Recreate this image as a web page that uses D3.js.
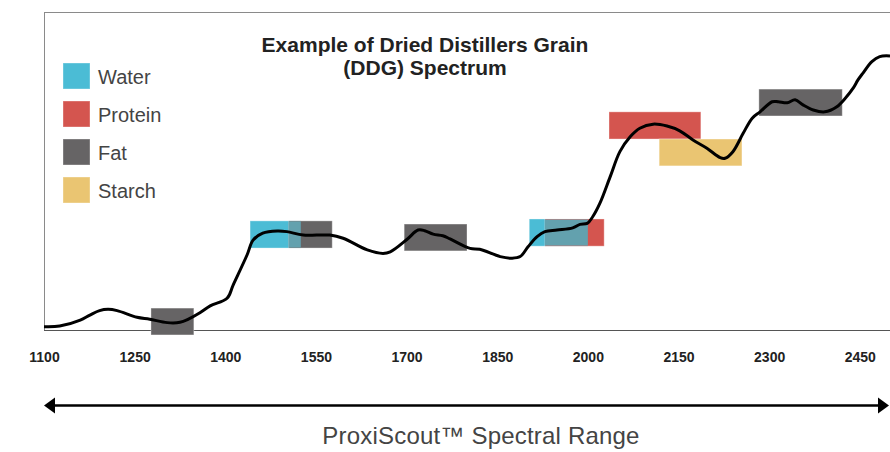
<!DOCTYPE html>
<html lang="en">
<head>
	<meta charset="UTF-8">
	<title>DDG Spectrum</title>
	<script src="https://cdn.jsdelivr.net/npm/d3@7"></script>
	<style>
		body { margin: 0; background: #fff; }
		svg { display: block; }
	</style>
</head>
<body>
	<div id="container"></div>

	<script>

		// spectrum trace (wavelength in nm, relative absorbance)
		var wavelengths = [1100, 1126, 1160, 1176, 1192, 1206, 1221, 1254, 1275, 1304, 1325, 1339, 1358, 1375, 1403,
			1413, 1436, 1446, 1462, 1486, 1502, 1529, 1573, 1595, 1635, 1661, 1673, 1701, 1719, 1730, 1744, 1760,
			1772, 1805, 1821, 1855, 1874, 1888, 1901, 1916, 1929, 1949, 1975, 1987, 1999, 2008, 2020, 2037, 2053,
			2070, 2086, 2108, 2131, 2152, 2174, 2197, 2219, 2227, 2240, 2257, 2272, 2285, 2305, 2315, 2330, 2343,
			2356, 2373, 2392, 2412, 2426, 2439, 2447, 2455, 2470, 2483, 2500];
		var absorbance = [0.4, 0.6, 2.5, 4.1, 5.5, 5.9, 5.5, 3.4, 2.8, 1.7, 1.8, 2.8, 4.8, 7.0, 9.4,
			13.6, 23.1, 27.8, 30.0, 30.7, 30.5, 29.4, 29.4, 28.4, 24.7, 23.6, 24.1, 28.1, 31.0, 30.8, 29.7, 29.2,
			28.2, 25.2, 24.9, 22.6, 22.1, 22.6, 25.7, 28.9, 30.5, 31.0, 31.7, 32.8, 33.1, 35.2, 39.5, 47.9, 55.8,
			60.5, 63.2, 64.5, 63.9, 62.4, 59.5, 56.9, 53.9, 53.7, 55.8, 61.6, 66.4, 68.4, 71.6, 71.6, 71.3, 72.2,
			70.6, 69.0, 68.4, 70.0, 72.7, 75.9, 78.5, 80.6, 84.3, 85.9, 86.1];

		// absorption bands: component, wavelength from/to, absorbance low/high
		var bandComponents = ["Fat", "Water", "Fat", "Fat", "Water", "Protein", "Protein", "Starch", "Fat"];
		var bandStart = [1277, 1441, 1505, 1696, 1903, 1929, 2035, 2118, 2283];
		var bandEnd = [1348, 1525, 1577, 1800, 2000, 2027, 2187, 2255, 2421];
		var bandLow = [-2.2, 25.3, 25.3, 24.4, 25.9, 25.9, 59.8, 51.3, 67.1];
		var bandHigh = [6.3, 33.9, 33.9, 32.9, 34.5, 34.5, 68.4, 59.8, 75.6];

		var components = ["Water", "Protein", "Fat", "Starch"];
		var componentColors = ["#4bbcd5", "#d4554f", "#666465", "#eac572"];
		var overlapColor = "#63a1ae";

		var tickValues = [1100, 1250, 1400, 1550, 1700, 1850, 2000, 2150, 2300, 2450];

		var titleLines = ["Example of Dried Distillers Grain", "(DDG) Spectrum"];
		var rangeLabel = "ProxiScout\u2122 Spectral Range";


		var width = 890;
		var height = 452;
		var plot = { left: 44, right: 890, top: 12, bottom: 330 };

		var svg = d3.select("#container").append("svg")
			.attr("width", width)
			.attr("height", height);

		var xscale = d3.scaleLinear()
			.domain([1100, 2500])
			.range([plot.left, plot.right]);

		var yscale = d3.scaleLinear()
			.domain([0, 100])
			.range([328, 12]);

		var color = d3.scaleOrdinal().domain(components).range(componentColors);

		// frame: top + left in light grey, bottom axis darker
		svg.append("line")
			.attr("x1", plot.left).attr("x2", plot.right)
			.attr("y1", plot.top + 0.5).attr("y2", plot.top + 0.5)
			.attr("stroke", "#8a8a8a");
		svg.append("line")
			.attr("x1", plot.left + 0.5).attr("x2", plot.left + 0.5)
			.attr("y1", plot.top).attr("y2", plot.bottom)
			.attr("stroke", "#8a8a8a");

		var xAxis = d3.axisBottom(xscale)
			.tickValues(tickValues)
			.tickSize(0)
			.tickPadding(22)
			.tickFormat(d3.format("d"));

		var axisG = svg.append("g")
			.attr("transform", "translate(0," + (plot.bottom + 0.5) + ")")
			.call(xAxis);
		axisG.select(".domain")
			.attr("stroke", "#555")
			.attr("d", "M" + plot.left + ",0H" + plot.right);
		axisG.selectAll("text")
			.attr("font-family", "'Liberation Sans', Arial, sans-serif")
			.attr("font-weight", "bold")
			.attr("font-size", 14)
			.attr("fill", "#222");

		// bands
		var bands = bandComponents.map(function(c, i) {
			return { comp: c, x0: bandStart[i], x1: bandEnd[i], lo: bandLow[i], hi: bandHigh[i] };
		});

		svg.append("g").selectAll("rect")
			.data(bands)
			.join("rect")
				.attr("x", function(d){ return xscale(d.x0); })
				.attr("y", function(d){ return yscale(d.hi); })
				.attr("width", function(d){ return xscale(d.x1) - xscale(d.x0); })
				.attr("height", function(d){ return yscale(d.lo) - yscale(d.hi); })
				.attr("fill", function(d){ return color(d.comp); })
				.attr("stroke", "#fff")
				.attr("stroke-opacity", 0.35)
				.attr("stroke-width", 1);

		// where two bands overlap on the same row the picture shows a mixed tone
		var overlaps = [];
		bands.forEach(function(a, i) {
			bands.forEach(function(b, j) {
				if (j <= i) return;
				if (a.lo !== b.lo || a.hi !== b.hi) return;
				var x0 = Math.max(a.x0, b.x0), x1 = Math.min(a.x1, b.x1);
				if (x1 > x0) overlaps.push({ x0: x0, x1: x1, lo: a.lo, hi: a.hi });
			});
		});

		svg.append("g").selectAll("rect")
			.data(overlaps)
			.join("rect")
				.attr("x", function(d){ return xscale(d.x0); })
				.attr("y", function(d){ return yscale(d.hi) + 0.5; })
				.attr("width", function(d){ return xscale(d.x1) - xscale(d.x0); })
				.attr("height", function(d){ return yscale(d.lo) - yscale(d.hi) - 1; })
				.attr("fill", overlapColor);

		// spectrum line
		var line = d3.line()
			.x(function(d){ return xscale(d[0]); })
			.y(function(d){ return yscale(d[1]); })
			.curve(d3.curveCatmullRom.alpha(0.5));

		svg.append("path")
			.datum(d3.zip(wavelengths, absorbance))
			.attr("d", line)
			.attr("fill", "none")
			.attr("stroke", "#000")
			.attr("stroke-width", 3)
			.attr("stroke-linejoin", "round");

		// title
		svg.append("g").selectAll("text")
			.data(titleLines)
			.join("text")
				.attr("x", 425)
				.attr("y", function(d, i){ return 52 + i * 22.5; })
				.attr("text-anchor", "middle")
				.attr("font-family", "'Liberation Sans', Arial, sans-serif")
				.attr("font-weight", "bold")
				.attr("font-size", 21)
				.attr("fill", "#222")
				.text(function(d){ return d; });

		// legend
		var legend = svg.append("g")
			.attr("transform", "translate(63,63)")
			.selectAll("g")
			.data(components)
			.join("g")
				.attr("transform", function(d, i){ return "translate(0," + (i * 38) + ")"; });

		legend.append("rect")
			.attr("width", 27)
			.attr("height", 26)
			.attr("fill", function(d){ return color(d); })
			.attr("stroke", "#fff")
			.attr("stroke-opacity", 0.35);

		legend.append("text")
			.attr("x", 35)
			.attr("y", 21)
			.attr("font-family", "'Liberation Sans', Arial, sans-serif")
			.attr("font-size", 20)
			.attr("fill", "#444")
			.text(function(d){ return d; });

		// range arrow under the axis
		var arrowY = 405.5;
		var arrow = svg.append("g");
		arrow.append("line")
			.attr("x1", xscale(1100) + 6).attr("x2", xscale(2500) - 6)
			.attr("y1", arrowY).attr("y2", arrowY)
			.attr("stroke", "#000")
			.attr("stroke-width", 2.5);
		arrow.append("path")
			.attr("d", "M" + xscale(1100) + "," + arrowY + "l11,-8v16z")
			.attr("fill", "#000");
		arrow.append("path")
			.attr("d", "M" + (xscale(2500) - 1) + "," + arrowY + "l-11,-8v16z")
			.attr("fill", "#000");

		svg.append("text")
			.attr("x", 481)
			.attr("y", 444)
			.attr("text-anchor", "middle")
			.attr("font-family", "'Liberation Sans', Arial, sans-serif")
			.attr("font-size", 24)
			.attr("letter-spacing", 0.2)
			.attr("fill", "#444")
			.text(rangeLabel);

	</script>
</body>
</html>
